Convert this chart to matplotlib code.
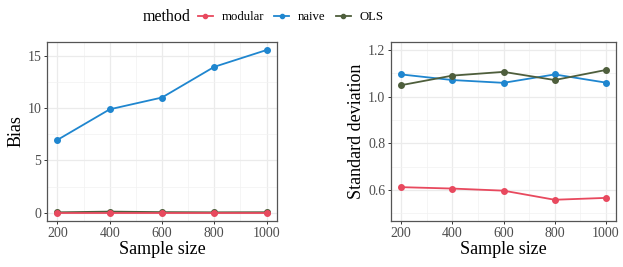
import matplotlib
matplotlib.use("Agg")
import matplotlib.pyplot as plt
from matplotlib.lines import Line2D
from matplotlib.ticker import MultipleLocator, FormatStrFormatter

plt.rcParams['font.family'] = ['Liberation Serif', 'DejaVu Serif']

sample_size = [200, 400, 600, 800, 1000]
methods = ["modular", "naive", "OLS"]
colors = {"modular": "#E8495E", "naive": "#1F86CF", "OLS": "#4E5E3C"}

bias = {
    "modular": [0.0, 0.0, 0.0, 0.0, 0.0],
    "naive": [6.97, 9.9, 11.03, 13.97, 15.58],
    "OLS": [0.03, 0.1, 0.05, 0.03, 0.04],
}
sd = {
    "modular": [0.612, 0.606, 0.597, 0.558, 0.566],
    "naive": [1.095, 1.071, 1.059, 1.095, 1.060],
    "OLS": [1.049, 1.090, 1.106, 1.071, 1.114],
}

fig = plt.figure(figsize=(6.23, 2.67), dpi=100)
ax1 = fig.add_axes([0.0754, 0.1723, 0.3692, 0.6704])
ax2 = fig.add_axes([0.6276, 0.1723, 0.3612, 0.6704])

def style(ax, major, minor):
    ax.set_facecolor('white')
    ax.yaxis.set_major_locator(MultipleLocator(major))
    ax.yaxis.set_minor_locator(MultipleLocator(minor))
    ax.xaxis.set_major_locator(MultipleLocator(200))
    ax.xaxis.set_minor_locator(MultipleLocator(100))
    ax.grid(which='major', color='#EBEBEB', linewidth=0.9)
    ax.grid(which='minor', color='#F2F2F2', linewidth=0.5)
    ax.set_axisbelow(True)
    for s in ax.spines.values():
        s.set_color('#555555')
        s.set_linewidth(0.9)
    ax.tick_params(which='major', length=2.5, color='#333333', width=0.7,
                   labelsize=10, labelcolor='#4D4D4D', pad=1.5)
    ax.tick_params(which='minor', length=0)
    ax.set_xlim(160, 1040)
    ax.set_xlabel('Sample size', fontsize=13, labelpad=1)

for ax, data in ((ax1, bias), (ax2, sd)):
    for m in ["OLS", "naive", "modular"] if ax is ax1 else methods:
        ax.plot(sample_size, data[m], color=colors[m], marker='o',
                markersize=4, linewidth=1.3, zorder=3)

style(ax1, 5, 2.5)
ax1.set_ylim(-0.8, 16.35)
ax1.set_ylabel('Bias', fontsize=13, labelpad=2)

style(ax2, 0.2, 0.1)
ax2.set_ylim(0.467, 1.234)
ax2.yaxis.set_major_formatter(FormatStrFormatter('%.1f'))
ax2.set_ylabel('Standard deviation', fontsize=13, labelpad=2)

fig.text(143/623, 1 - 17/267, 'method', fontsize=11.5, va='center', ha='left')
handles = [Line2D([], [], color=colors[m], marker='o', markersize=3,
                  linewidth=1.3) for m in methods]
fig.legend(handles, methods, ncol=3, loc='center left',
           bbox_to_anchor=(198/623, 1 - 17/267), frameon=False,
           fontsize=9.2, handlelength=1.15, handletextpad=0.7,
           columnspacing=0.8, borderpad=0, borderaxespad=0)

fig.savefig('out.png', dpi=100)
